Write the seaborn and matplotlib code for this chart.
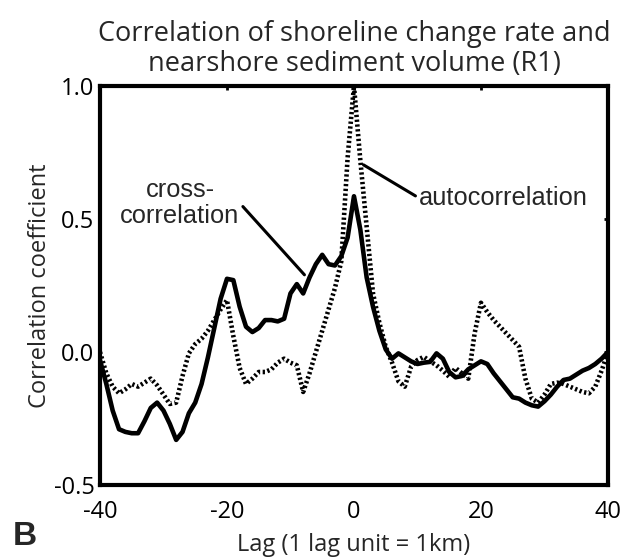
import numpy as np
import pandas as pd
import matplotlib
matplotlib.use("Agg")
import matplotlib.pyplot as plt
import seaborn as sns

# ── Data ──────────────────────────────────────────────────────────────────────
lag = list(range(-40, 41))

cross_corr = [
    -0.03, -0.12, -0.22, -0.29, -0.30, -0.305, -0.305, -0.26, -0.21, -0.19,
    -0.22, -0.27, -0.33, -0.30, -0.23, -0.19, -0.12, -0.02, 0.09, 0.20,
    0.275, 0.27, 0.17, 0.095, 0.075, 0.09, 0.12, 0.12, 0.115, 0.125,
    0.22, 0.255, 0.22, 0.28, 0.33, 0.365, 0.33, 0.325, 0.36, 0.43,
    0.585,
    0.46, 0.28, 0.17, 0.08, 0.01, -0.025, -0.005, -0.02, -0.035, -0.045,
    -0.04, -0.037, -0.005, -0.025, -0.075, -0.095, -0.09, -0.065, -0.05, -0.035,
    -0.045, -0.08, -0.11, -0.14, -0.17, -0.175, -0.19, -0.20, -0.205, -0.185,
    -0.16, -0.13, -0.105, -0.10, -0.085, -0.07, -0.06, -0.045, -0.025, 0.0,
]

auto_corr = [
    0.0, -0.08, -0.13, -0.155, -0.14, -0.12, -0.13, -0.115, -0.10, -0.125,
    -0.16, -0.195, -0.19, -0.09, -0.005, 0.03, 0.05, 0.08, 0.12, 0.16,
    0.195, 0.06, -0.06, -0.12, -0.10, -0.075, -0.075, -0.065, -0.04, -0.025,
    -0.04, -0.05, -0.15, -0.08, 0.0, 0.08, 0.16, 0.24, 0.34, 0.73,
    1.0,
    0.72, 0.47, 0.22, 0.11, 0.02, -0.04, -0.11, -0.13, -0.055, -0.03,
    -0.018, -0.035, -0.05, -0.07, -0.093, -0.06, -0.08, -0.10, 0.07, 0.185,
    0.15, 0.12, 0.095, 0.07, 0.045, 0.02, -0.10, -0.175, -0.19, -0.16,
    -0.12, -0.115, -0.12, -0.13, -0.14, -0.15, -0.155, -0.13, -0.07, 0.0,
]

x_ticks = [-40, -20, 0, 20, 40]
y_ticks = [-0.5, 0.0, 0.5, 1.0]
y_tick_labels = ["-0.5", "0.0", "0.5", "1.0"]

df = pd.DataFrame({"lag": lag, "cross": cross_corr, "auto": auto_corr})

# ── Figure ────────────────────────────────────────────────────────────────────
sns.set_style("white")
plt.rcParams["axes.unicode_minus"] = False
label_font = ["Open Sans", "DejaVu Sans"]
note_font = ["Liberation Sans", "DejaVu Sans"]

fig = plt.figure(figsize=(6.21, 5.57), dpi=100)
ax = fig.add_axes([0.161, 0.129, 0.818, 0.717])

sns.lineplot(data=df, x="lag", y="auto", ax=ax, color="black",
             linewidth=3.3, linestyle=(0, (0.5, 0.55)))
sns.lineplot(data=df, x="lag", y="cross", ax=ax, color="black",
             linewidth=3.3)
for ln in ax.lines:
    ln.set_dash_capstyle("butt")
    ln.set_solid_joinstyle("round")

ax.set_xlim(-40, 40)
ax.set_ylim(-0.5, 1.0)
ax.set_xticks(x_ticks)
ax.set_xticklabels([str(t) for t in x_ticks], fontsize=17, family=label_font)
ax.set_yticks(y_ticks)
ax.set_yticklabels(y_tick_labels, fontsize=17, family=label_font)
ax.tick_params(direction="in", length=3, width=2, top=True, right=True,
               colors="black")
ax.tick_params(axis="x", pad=11)
ax.tick_params(axis="y", pad=4)

for sp in ax.spines.values():
    sp.set_linewidth(3.0)
    sp.set_color("black")

ax.set_xlabel("Lag (1 lag unit = 1km)", fontsize=17, family=label_font,
              labelpad=6)
ax.set_ylabel("Correlation coefficient", fontsize=17, family=label_font,
              labelpad=1)
ax.set_title("Correlation of shoreline change rate and\nnearshore sediment volume (R1)",
             fontsize=19.5, family=label_font, pad=11, linespacing=1.05)

# annotations
ax.annotate("cross-\ncorrelation", xy=(-7.8, 0.29), xytext=(-27.4, 0.56),
            ha="center", va="center", fontsize=18.3, family=note_font,
            linespacing=1.1,
            arrowprops=dict(arrowstyle="-", color="black", lw=2.2,
                            shrinkA=0, shrinkB=0,
                            relpos=(1.0, 0.5)))
ax.annotate("autocorrelation", xy=(1.5, 0.703), xytext=(10.2, 0.579),
            ha="left", va="center", fontsize=18.3, family=note_font,
            arrowprops=dict(arrowstyle="-", color="black", lw=2.2,
                            shrinkA=0, shrinkB=0, relpos=(0.0, 0.5)))

fig.text(0.02, 0.022, "B", fontsize=24, fontweight="bold",
         family=note_font, ha="left", va="baseline")

fig.savefig("out.png", dpi=100)
